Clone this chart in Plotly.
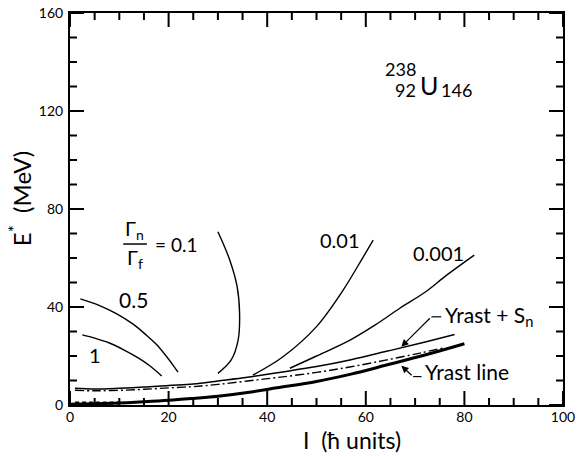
import plotly.graph_objects as go

# ---- data ----
yrast_I = [0, 5, 10, 15, 20, 25, 30, 36, 42, 50, 57, 64, 72, 80]
yrast_E = [0.3, 0.5, 0.8, 1.3, 1.9, 2.7, 3.6, 5.1, 7.0, 9.6, 12.6, 16.2, 20.4, 25.0]

yrast_sn_I = [1, 5, 10, 15, 20, 25, 30, 36, 42, 50, 57, 64, 71, 78]
yrast_sn_E = [6.8, 6.5, 6.8, 7.3, 8.0, 8.6, 9.8, 11.3, 13.2, 15.7, 18.5, 21.8, 25.2, 28.8]

dashdot_I = [1, 5, 10, 15, 20, 25, 30, 36, 42, 50, 57, 64, 71, 76]
dashdot_E = [6.0, 5.8, 6.0, 6.4, 7.0, 7.5, 8.4, 9.8, 11.2, 13.3, 15.6, 18.3, 21.2, 23.4]

dotted_I = [1, 4, 7, 11]
dotted_E = [0.8, 0.8, 0.8, 0.9]

r1_I = [2.5, 5, 8, 11, 14, 16.5, 18.6]
r1_E = [28.6, 27.3, 25.3, 22.4, 19.0, 15.5, 11.8]

r05_I = [2.1, 6, 9.4, 12.8, 15.5, 17.5, 19.5, 21, 21.9]
r05_E = [43.3, 40.6, 37.3, 33.0, 28.5, 24.8, 20.0, 16.0, 13.4]

r01_I = [30, 32.4, 33.9, 34.4, 34.1, 32.7, 30]
r01_E = [70.7, 59.2, 48.3, 37.4, 26.5, 18.4, 12.9]

r001_I = [37.1, 43.2, 50, 55.4, 59.5, 61.5]
r001_E = [12.2, 19.7, 32, 46.9, 60.5, 67.3]

r0001_I = [44.6, 50, 56.8, 62, 66.9, 72, 76.4, 82]
r0001_E = [15, 20, 26.5, 32.8, 39.5, 46, 53, 61.2]

x_range = [0, 100]
y_range = [0, 160]
x_major_ticks = [0, 20, 40, 60, 80, 100]
y_major_ticks = [0, 40, 80, 120, 160]
x_minor_ticks = [v for v in range(0, 101, 5) if v not in x_major_ticks]
y_minor_ticks = [v for v in range(0, 161, 10) if v not in y_major_ticks]

FONT = "Lato"
W, H = 581, 457
M = dict(l=70, r=18, t=13, b=52)

fig = go.Figure()

def curve(x, y, width=1.4, dash="solid", shape="spline"):
    fig.add_trace(go.Scatter(x=x, y=y, mode="lines",
                             line=dict(color="black", width=width, dash=dash, shape=shape),
                             showlegend=False, hoverinfo="skip", cliponaxis=False))

curve(r1_I, r1_E)
curve(r05_I, r05_E)
curve(r01_I, r01_E)
curve(r001_I, r001_E)
curve(r0001_I, r0001_E)
curve(yrast_sn_I, yrast_sn_E, width=1.5)
curve(dashdot_I, dashdot_E, width=1.4, dash="9px,3px,2px,3px")
curve(yrast_I, yrast_E, width=3.0)
curve(dotted_I, dotted_E, width=3.0, dash="4px,3px")

# ---- inward tick marks on all four sides, as one line trace in data units ----
px_x = (W - M["l"] - M["r"]) / (x_range[1] - x_range[0])   # pixels per x unit
px_y = (H - M["t"] - M["b"]) / (y_range[1] - y_range[0])   # pixels per y unit
MAJ, MIN = 14, 7
tx, ty = [], []
for vals, ln in ((x_major_ticks, MAJ), (x_minor_ticks, MIN)):
    d = ln / px_y
    for v in vals:
        tx += [v, v, None, v, v, None]
        ty += [y_range[0], y_range[0] + d, None, y_range[1], y_range[1] - d, None]
for vals, ln in ((y_major_ticks, MAJ), (y_minor_ticks, MIN)):
    d = ln / px_x
    for v in vals:
        tx += [x_range[0], x_range[0] + d, None, x_range[1], x_range[1] - d, None]
        ty += [v, v, None, v, v, None]
curve(tx, ty, width=2.0, shape="linear")

def label(x, y, text, size=20, xanchor="center", yanchor="middle"):
    fig.add_annotation(x=x, y=y, text=text, showarrow=False, xanchor=xanchor, yanchor=yanchor,
                       font=dict(family=FONT, size=size, color="black"))

label(5.0, 20.4, "1", 20)
label(12.8, 43.0, "0.5", 21)
label(13.1, 71.5, "Γ<sub>n</sub>", 20)
label(13.1, 60.0, "Γ<sub>f</sub>", 20)
fig.add_shape(type="line", x0=10.8, x1=15.6, y0=65.7, y1=65.7, line=dict(color="black", width=1.5))
label(16.9, 65.5, "= 0.1", 19, xanchor="left")
label(54.7, 67.3, "0.01", 20)
label(74.8, 62.0, "0.001", 20)

label(70.6, 137.0, "238", 18, xanchor="right")
label(70.6, 128.6, "92", 18, xanchor="right")
label(72.9, 130.8, "U", 25)
label(74.8, 128.4, "146", 18, xanchor="left")

label(75.6, 36.5, "Yrast + S<sub>n</sub>", 21, xanchor="left")
label(71.6, 13.5, "Yrast line", 21, xanchor="left")

fig.add_annotation(x=67.2, y=23.8, ax=73.3, ay=36.0, axref="x", ayref="y", text="",
                   showarrow=True, arrowhead=2, arrowsize=1.2, arrowwidth=1.2, arrowcolor="black")
fig.add_shape(type="line", x0=73.3, x1=75.3, y0=36.0, y1=36.0, line=dict(color="black", width=1.2))
fig.add_annotation(x=67.2, y=16.0, ax=69.6, ay=11.6, axref="x", ayref="y", text="",
                   showarrow=True, arrowhead=2, arrowsize=1.2, arrowwidth=1.2, arrowcolor="black")
fig.add_shape(type="line", x0=69.6, x1=71.3, y0=11.6, y1=11.6, line=dict(color="black", width=1.2))

# axis titles (placed like the reference, slightly off-centre)
fig.add_annotation(x=57.2, y=0, xref="x", yref="paper", yshift=-35, showarrow=False,
                   text="I&nbsp;&nbsp;(ħ&nbsp;units)", xanchor="center", yanchor="middle",
                   font=dict(family=FONT, size=23, color="black"))
fig.add_annotation(x=0, y=84, xref="paper", yref="y", xshift=-50, showarrow=False, textangle=-90,
                   text="E<sup>*</sup>&nbsp;&nbsp;(MeV)", xanchor="center", yanchor="middle",
                   font=dict(family=FONT, size=24, color="black"))

common = dict(showline=True, linecolor="black", linewidth=2, mirror=True, ticks="",
              showgrid=False, zeroline=False, automargin=False,
              tickfont=dict(family=FONT, size=14, color="black"))

fig.update_layout(
    xaxis=dict(range=x_range, tickmode="array", tickvals=x_major_ticks,
               ticktext=[str(v) for v in x_major_ticks], ticklabelstandoff=-2, **common),
    yaxis=dict(range=y_range, tickmode="array", tickvals=y_major_ticks,
               ticktext=[str(v) for v in y_major_ticks], ticklabelstandoff=2, **common),
    width=W, height=H, margin=dict(**M, autoexpand=False),
    plot_bgcolor="white", paper_bgcolor="white", showlegend=False)

fig.write_html("out.html", config={"displayModeBar": False},
               post_script="document.body.style.margin='0';document.body.style.overflow='hidden';")
